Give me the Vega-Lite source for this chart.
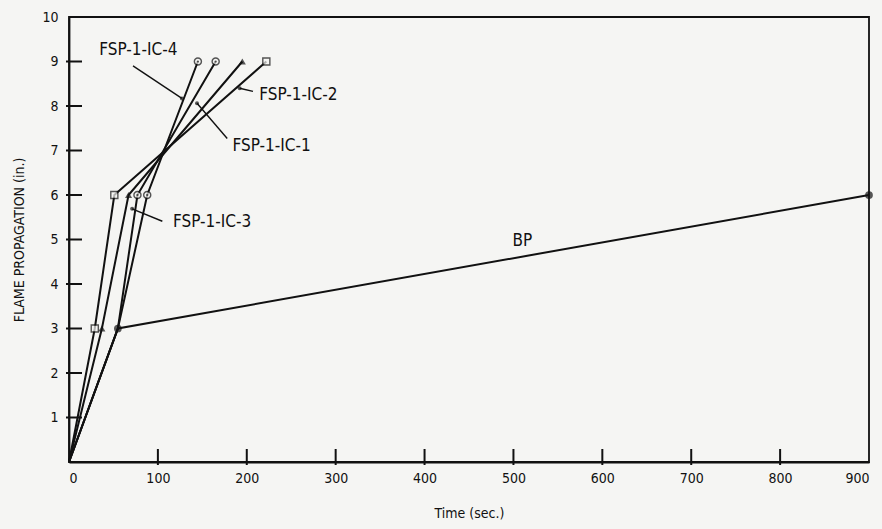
{
  "$schema": "https://vega.github.io/schema/vega-lite/v6.json",
  "width": 800,
  "height": 445,
  "autosize": {"type": "none"},
  "padding": {"left": 69, "top": 17, "right": 13, "bottom": 67},
  "background": "#f5f5f3",
  "config": {
    "view": {"stroke": "#111", "strokeWidth": 1.8},
    "font": "DejaVu Sans Condensed",
    "axis": {"grid": false, "domainColor": "#111", "domainWidth": 1.8, "labelColor": "#111", "titleColor": "#111", "labelFontSize": 14, "titleFontSize": 14, "titleFontWeight": "normal"}
  },
  "datasets": {
    "curves": [
      {"series": "FSP-1-IC-2", "t": 0, "v": 0},
      {"series": "FSP-1-IC-2", "t": 29, "v": 3},
      {"series": "FSP-1-IC-2", "t": 51, "v": 6},
      {"series": "FSP-1-IC-2", "t": 222, "v": 9},
      {"series": "FSP-1-IC-3", "t": 0, "v": 0},
      {"series": "FSP-1-IC-3", "t": 37, "v": 3},
      {"series": "FSP-1-IC-3", "t": 67, "v": 6},
      {"series": "FSP-1-IC-3", "t": 195, "v": 9},
      {"series": "FSP-1-IC-1", "t": 0, "v": 0},
      {"series": "FSP-1-IC-1", "t": 55, "v": 3},
      {"series": "FSP-1-IC-1", "t": 77, "v": 6},
      {"series": "FSP-1-IC-1", "t": 165, "v": 9},
      {"series": "FSP-1-IC-4", "t": 0, "v": 0},
      {"series": "FSP-1-IC-4", "t": 55, "v": 3},
      {"series": "FSP-1-IC-4", "t": 88, "v": 6},
      {"series": "FSP-1-IC-4", "t": 145, "v": 9},
      {"series": "BP", "t": 0, "v": 0},
      {"series": "BP", "t": 55, "v": 3},
      {"series": "BP", "t": 900, "v": 6}
    ],
    "labels": [
      {"text": "FSP-1-IC-4", "t": 78, "v": 9.25},
      {"text": "FSP-1-IC-2", "t": 258, "v": 8.24},
      {"text": "FSP-1-IC-1", "t": 228, "v": 7.11},
      {"text": "FSP-1-IC-3", "t": 161, "v": 5.4},
      {"text": "BP", "t": 510, "v": 4.97}
    ],
    "leaders": [
      {"t": 72, "v": 8.9, "t2": 127, "v2": 8.17},
      {"t": 207, "v": 8.33, "t2": 192, "v2": 8.4},
      {"t": 178, "v": 7.27, "t2": 144, "v2": 8.06},
      {"t": 105, "v": 5.41, "t2": 71, "v2": 5.69}
    ],
    "xticks": [
      {"t": 100}, {"t": 200}, {"t": 300}, {"t": 400}, {"t": 500}, {"t": 600}, {"t": 700}, {"t": 800}
    ],
    "yticks": [
      {"v": 1}, {"v": 2}, {"v": 3}, {"v": 4}, {"v": 5}, {"v": 6}, {"v": 7}, {"v": 8}, {"v": 9}
    ]
  },
  "layer": [
    {
      "data": {"name": "curves"},
      "mark": {"type": "line", "color": "#111", "strokeWidth": 2},
      "encoding": {
        "x": {"field": "t", "type": "quantitative", "scale": {"domain": [0, 900], "nice": false}, "axis": {"title": "Time (sec.)", "values": [0, 100, 200, 300, 400, 500, 600, 700, 800, 900], "ticks": false, "labelPadding": 9, "titlePadding": 21}},
        "y": {"field": "v", "type": "quantitative", "scale": {"domain": [0, 10], "nice": false}, "axis": {"title": "FLAME PROPAGATION (in.)", "values": [0, 1, 2, 3, 4, 5, 6, 7, 8, 9, 10], "labelExpr": "datum.value == 0 ? '' : datum.label", "ticks": false, "labelPadding": 11, "titlePadding": 15}},
        "detail": {"field": "series"},
        "order": {"field": "t", "type": "quantitative"}
      }
    },
    {
      "data": {"name": "xticks"},
      "mark": {"type": "tick", "orient": "vertical", "color": "#111", "opacity": 1, "thickness": 2, "size": 16, "yOffset": -5},
      "encoding": {
        "x": {"field": "t", "type": "quantitative"},
        "y": {"datum": 0, "type": "quantitative"}
      }
    },
    {
      "data": {"name": "yticks"},
      "mark": {"type": "tick", "orient": "horizontal", "color": "#111", "opacity": 1, "thickness": 2, "size": 16, "xOffset": 5},
      "encoding": {
        "y": {"field": "v", "type": "quantitative"},
        "x": {"datum": 0, "type": "quantitative"}
      }
    },
    {
      "data": {"name": "curves"},
      "transform": [{"filter": "datum.t > 0 && (datum.series == 'FSP-1-IC-1' || datum.series == 'FSP-1-IC-2' || datum.series == 'FSP-1-IC-4') && !(datum.v == 3 && datum.series != 'FSP-1-IC-2')"}],
      "mark": {"type": "point", "filled": true, "fill": "#f5f5f3", "stroke": "#111", "strokeWidth": 1.4, "size": 50},
      "encoding": {
        "x": {"field": "t", "type": "quantitative"},
        "y": {"field": "v", "type": "quantitative"},
        "shape": {"field": "series", "type": "nominal", "scale": {"domain": ["FSP-1-IC-1", "FSP-1-IC-2", "FSP-1-IC-4"], "range": ["circle", "square", "circle"]}, "legend": null}
      }
    },
    {
      "data": {"name": "curves"},
      "transform": [{"filter": "datum.t > 0 && datum.v > 3 && (datum.series == 'FSP-1-IC-1' || datum.series == 'FSP-1-IC-4')"}],
      "mark": {"type": "point", "filled": true, "color": "#111", "size": 5, "shape": "circle"},
      "encoding": {
        "x": {"field": "t", "type": "quantitative"},
        "y": {"field": "v", "type": "quantitative"}
      }
    },
    {
      "data": {"name": "curves"},
      "transform": [{"filter": "datum.t > 0 && datum.series == 'FSP-1-IC-3'"}],
      "mark": {"type": "point", "filled": true, "color": "#111", "size": 50, "shape": "triangle-up"},
      "encoding": {
        "x": {"field": "t", "type": "quantitative"},
        "y": {"field": "v", "type": "quantitative"}
      }
    },
    {
      "data": {"name": "curves"},
      "transform": [{"filter": "datum.t > 0 && datum.series == 'BP'"}],
      "mark": {"type": "point", "filled": true, "color": "#111", "size": 60, "shape": "circle"},
      "encoding": {
        "x": {"field": "t", "type": "quantitative"},
        "y": {"field": "v", "type": "quantitative"}
      }
    },
    {
      "data": {"name": "leaders"},
      "mark": {"type": "rule", "color": "#111", "strokeWidth": 1.4},
      "encoding": {
        "x": {"field": "t", "type": "quantitative"},
        "y": {"field": "v", "type": "quantitative"},
        "x2": {"field": "t2"},
        "y2": {"field": "v2"}
      }
    },
    {
      "data": {"name": "leaders"},
      "mark": {"type": "point", "filled": true, "color": "#111", "size": 16, "shape": "circle"},
      "encoding": {
        "x": {"field": "t2", "type": "quantitative"},
        "y": {"field": "v2", "type": "quantitative"}
      }
    },
    {
      "data": {"name": "labels"},
      "mark": {"type": "text", "fontSize": 17, "color": "#111", "align": "center", "baseline": "middle"},
      "encoding": {
        "x": {"field": "t", "type": "quantitative"},
        "y": {"field": "v", "type": "quantitative"},
        "text": {"field": "text"}
      }
    }
  ]
}
